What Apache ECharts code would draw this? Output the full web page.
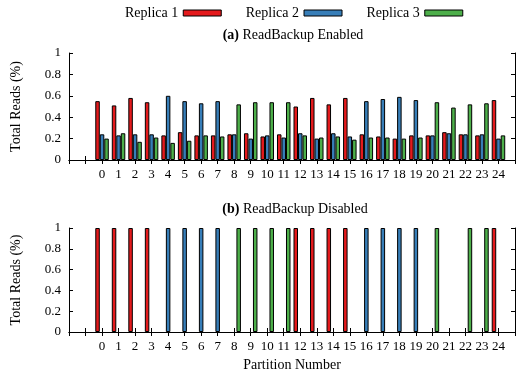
<!DOCTYPE html>
<html>
<head>
<meta charset="utf-8">
<script src="https://cdn.jsdelivr.net/npm/echarts@6/dist/echarts.min.js"></script>
<style>html,body{margin:0;padding:0;background:#fff}#c{width:518px;height:374px}</style>
</head>
<body>
<div id="c"></div>
<script>
// Axis categories (positions -2..25; labels shown for 0..24)
const xCategories = ['-2','-1','0','1','2','3','4','5','6','7','8','9','10','11','12','13','14','15','16','17','18','19','20','21','22','23','24','25'];
const partitions = ['0','1','2','3','4','5','6','7','8','9','10','11','12','13','14','15','16','17','18','19','20','21','22','23','24'];
const yTicks = [0, 0.2, 0.4, 0.6, 0.8, 1];
const seriesNames = ['Replica 1', 'Replica 2', 'Replica 3'];
const colors = ['#e41a1c', '#377eb8', '#4daf4a'];

// (a) ReadBackup Enabled
const replica1Enabled = [0.55, 0.51, 0.58, 0.54, 0.23, 0.26, 0.23, 0.23, 0.24, 0.25, 0.22, 0.24, 0.50, 0.58, 0.52, 0.58, 0.24, 0.22, 0.20, 0.23, 0.23, 0.26, 0.24, 0.23, 0.56];
const replica2Enabled = [0.24, 0.23, 0.24, 0.24, 0.60, 0.55, 0.53, 0.55, 0.24, 0.20, 0.23, 0.21, 0.25, 0.20, 0.25, 0.22, 0.55, 0.57, 0.59, 0.56, 0.23, 0.25, 0.24, 0.24, 0.20];
const replica3Enabled = [0.20, 0.25, 0.17, 0.21, 0.16, 0.18, 0.23, 0.22, 0.52, 0.54, 0.54, 0.54, 0.23, 0.21, 0.22, 0.19, 0.21, 0.21, 0.20, 0.21, 0.54, 0.49, 0.52, 0.53, 0.23];

// (b) ReadBackup Disabled (null = no bar)
const replica1Disabled = [1, 1, 1, 1, null, null, null, null, null, null, null, null, 1, 1, 1, 1, null, null, null, null, null, null, null, null, 1];
const replica2Disabled = [null, null, null, null, 1, 1, 1, 1, null, null, null, null, null, null, null, null, 1, 1, 1, 1, null, null, null, null, null];
const replica3Disabled = [null, null, null, null, null, null, null, null, 1, 1, 1, 1, null, null, null, null, null, null, null, null, 1, null, 1, 1, null];

const FONT = 'Liberation Serif';
function pad(arr) {
  // map partition values onto the axis categories
  return xCategories.map(c => {
    const i = partitions.indexOf(c);
    return i >= 0 ? arr[i] : null;
  });
}
const grids = [
  {left: 69, right: 3, top: 53, height: 107},
  {left: 69, right: 3, top: 228, height: 104}
];
const xAxes = [], yAxes = [];
grids.forEach((g, gi) => {
  xAxes.push({
    type: 'category', gridIndex: gi, data: xCategories, boundaryGap: false, position: 'bottom',
    axisLine: {lineStyle: {color: '#000', width: 1}},
    axisTick: {inside: true, length: 4, interval: 0, lineStyle: {color: '#000'}},
    axisLabel: {interval: 0, margin: 8, color: '#000', fontFamily: FONT, fontSize: 13,
      formatter: v => partitions.indexOf(v) >= 0 ? v : ''},
    splitLine: {show: false},
    name: gi === 1 ? 'Partition Number' : '', nameLocation: 'middle', nameGap: 26,
    nameTextStyle: {color: '#000', fontFamily: FONT, fontSize: 14}
  });
  xAxes.push({
    type: 'category', gridIndex: gi, data: xCategories, boundaryGap: false, position: 'top',
    axisLine: {lineStyle: {color: '#000', width: 1}},
    axisTick: {inside: true, length: 4, interval: 0, lineStyle: {color: '#000'}},
    axisLabel: {show: false}, splitLine: {show: false}
  });
  yAxes.push({
    type: 'value', gridIndex: gi, min: yTicks[0], max: yTicks[yTicks.length - 1], interval: 0.2, position: 'left',
    axisLine: {show: true, lineStyle: {color: '#000', width: 1}},
    axisTick: {show: true, inside: true, length: 4, lineStyle: {color: '#000'}},
    axisLabel: {margin: 8, color: '#000', fontFamily: FONT, fontSize: 13,
      formatter: v => String(Math.round(v * 10) / 10)},
    splitLine: {show: false},
    name: 'Total Reads (%)', nameLocation: 'middle', nameGap: 46, nameRotate: 90,
    nameTextStyle: {color: '#000', fontFamily: FONT, fontSize: 14}
  });
  yAxes.push({
    type: 'value', gridIndex: gi, min: yTicks[0], max: yTicks[yTicks.length - 1], interval: 0.2, position: 'right',
    axisLine: {show: true, lineStyle: {color: '#000', width: 1}},
    axisTick: {show: true, inside: true, length: 4, lineStyle: {color: '#000'}},
    axisLabel: {show: false}, splitLine: {show: false}
  });
});
const enabled = [replica1Enabled, replica2Enabled, replica3Enabled];
const disabled = [replica1Disabled, replica2Disabled, replica3Disabled];
const series = [];
[enabled, disabled].forEach((set, gi) => {
  set.forEach((vals, si) => {
    series.push({
      type: 'bar', name: seriesNames[si], xAxisIndex: gi * 2, yAxisIndex: gi * 2,
      data: pad(vals), barWidth: 4.5, barGap: '0%',
      itemStyle: {color: colors[si], borderColor: '#000', borderWidth: 1},
      emphasis: {disabled: true}, animation: false
    });
  });
});
const chart = echarts.init(document.getElementById('c'));
chart.setOption({
  animation: false,
  textStyle: {fontFamily: FONT},
  title: [
    {text: '{b|(a)} ReadBackup Enabled', left: 288, top: 23, textAlign: 'center',
      textStyle: {fontSize: 14, fontWeight: 'normal', color: '#000', fontFamily: FONT,
        rich: {b: {fontWeight: 'bold', fontSize: 14, fontFamily: FONT, color: '#000'}}}},
    {text: '{b|(b)} ReadBackup Disabled', left: 290, top: 197, textAlign: 'center',
      textStyle: {fontSize: 14, fontWeight: 'normal', color: '#000', fontFamily: FONT,
        rich: {b: {fontWeight: 'bold', fontSize: 14, fontFamily: FONT, color: '#000'}}}}
  ],
  legend: {
    data: seriesNames, top: 1, left: 120, align: 'right', icon: 'rect',
    itemWidth: 38, itemHeight: 6, itemGap: 24,
    textStyle: {fontFamily: FONT, fontSize: 14, color: '#000', padding: [0, 0, 0, 0]},
    itemStyle: {borderColor: '#000', borderWidth: 1}
  },
  grid: grids,
  xAxis: xAxes,
  yAxis: yAxes,
  series: series
});
</script>
</body>
</html>
